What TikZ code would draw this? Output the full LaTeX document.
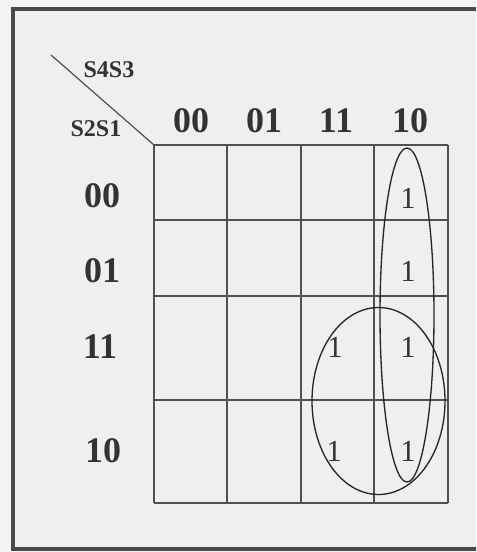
\documentclass[tikz,border=0pt]{standalone}
\usepackage{fontspec}
\setmainfont{Liberation Serif}
\usetikzlibrary{positioning}

\definecolor{fundo}{HTML}{F4F4F4}
\definecolor{quadro}{HTML}{EFEFEF}
\definecolor{borda}{HTML}{4A4A4A}
\definecolor{linha}{HTML}{505050}
\definecolor{texto}{HTML}{333333}

\begin{document}
\begin{tikzpicture}[
    x=0.75pt, y=-0.75pt,
    variavel/.style={font=\fontsize{18}{20}\selectfont\bfseries, text=texto, inner sep=0pt},
    cabecalho/.style={font=\fontsize{27}{30}\selectfont\bfseries, text=texto, inner sep=0pt},
    uno/.style={font=\fontsize{23}{25}\selectfont, text=texto, inner sep=0pt},
    grade/.style={draw=linha, line width=1.4pt},
    laco/.style={draw=black!85, line width=1pt}
]
\useasboundingbox (0,0) rectangle (476,552);
\clip (0,0) rectangle (476,552);

% Fundo e moldura
\fill[fundo] (0,0) rectangle (476,552);
\draw[borda, fill=quadro, line width=3pt] (13,9) rectangle (500,549);

% Diagonal do canto
\coordinate (diagA) at (51,55);
\coordinate (diagB) at (154,145);
\draw[linha, line width=0.9pt] (diagA) -- (diagB);

% Nomes das variaveis
\node[variavel] (s4s3) at (109,70) {S4S3};
\node[variavel] (s2s1) at (96,129) {S2S1};

% Grade do mapa
\foreach \x in {154,227,301,374,448}
  \draw[grade] (\x,145) -- (\x,503);
\foreach \y in {145,220,296,400,503}
  \draw[grade] (154,\y) -- (448,\y);

% Cabecalhos das colunas
\node[cabecalho] (c00) at (191,121) {00};
\node[cabecalho] (c01) at (264,121) {01};
\node[cabecalho] (c11) at (336,121) {11};
\node[cabecalho] (c10) at (410,121) {10};

% Cabecalhos das linhas
\node[cabecalho] (r00) at (102,196) {00};
\node[cabecalho] (r01) at (102,271) {01};
\node[cabecalho] (r11) at (100,347) {11};
\node[cabecalho] (r10) at (103,451) {10};

% Uns do mapa
\node[uno] (m1) at (408,198) {1};
\node[uno] (m2) at (408,271) {1};
\node[uno] (m3) at (408,347) {1};
\node[uno] (m4) at (408,451) {1};
\node[uno] (m5) at (335,347) {1};
\node[uno] (m6) at (334,451) {1};

% Agrupamentos
\draw[laco] (407,315) ellipse [x radius=27, y radius=167];
\draw[laco] (378.5,401) ellipse [x radius=66.5, y radius=93.5];

\end{tikzpicture}
\end{document}
